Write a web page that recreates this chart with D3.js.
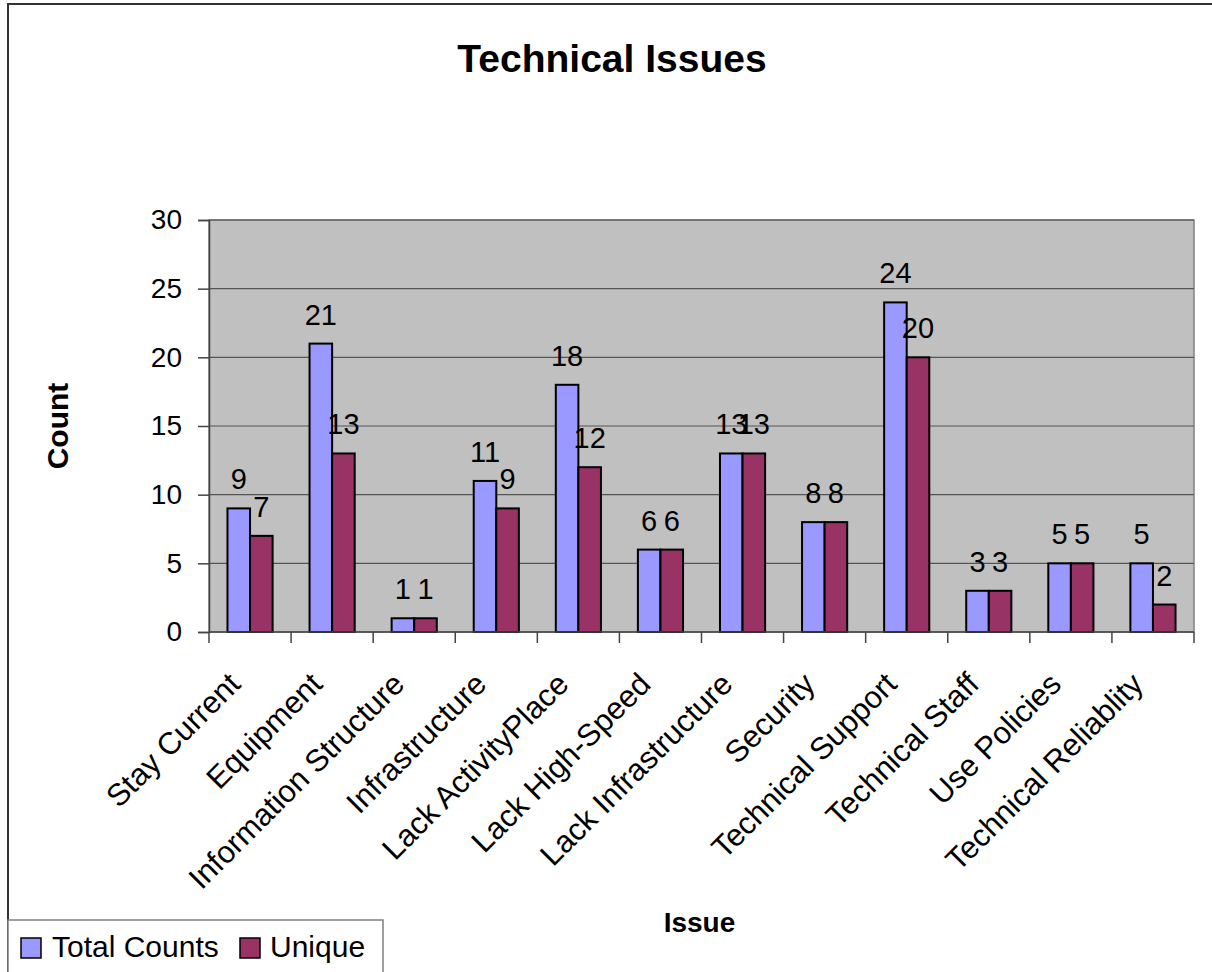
<!DOCTYPE html>
<html>
<head>
<meta charset="utf-8">
<script src="https://cdn.jsdelivr.net/npm/d3@7"></script>
<style>
  html, body { margin: 0; padding: 0; background: #fff; }
  svg { display: block; font-family: Arial, "Liberation Sans", sans-serif; }
</style>
</head>
<body>
<svg id="chart" width="1212" height="972"></svg>
<script>
// Issue categories along the x axis
const categories = [
  "Stay Current", "Equipment", "Information Structure", "Infrastructure",
  "Lack ActivityPlace", "Lack High-Speed", "Lack Infrastructure", "Security",
  "Technical Support", "Technical Staff", "Use Policies", "Technical Reliablity"
];
// Series values
const totalCounts = [9, 21, 1, 11, 18, 6, 13, 8, 24, 3, 5, 5];
const uniqueCounts = [7, 13, 1, 9, 12, 6, 13, 8, 20, 3, 5, 2];
const seriesNames = ["Total Counts", "Unique"];
const seriesColors = ["#9999FF", "#993366"];
// Y axis ticks
const yTicks = [0, 5, 10, 15, 20, 25, 30];

const svg = d3.select("#chart");

// Outer chart frame (extends past the right and bottom edges)
svg.append("rect")
  .attr("x", 8).attr("y", 4)
  .attr("width", 1260).attr("height", 1000)
  .attr("fill", "#fff").attr("stroke", "#333").attr("stroke-width", 2);

const plot = { left: 209, right: 1194, top: 220, bottom: 632 };

const x = d3.scaleBand().domain(categories).range([plot.left, plot.right]);
const y = d3.scaleLinear().domain([0, 30]).range([plot.bottom, plot.top]);

// Plot background
svg.append("rect")
  .attr("x", plot.left).attr("y", plot.top)
  .attr("width", plot.right - plot.left).attr("height", plot.bottom - plot.top)
  .attr("fill", "#C0C0C0").attr("stroke", "#808080").attr("stroke-width", 1.5);

// Horizontal gridlines
svg.append("g").selectAll("line")
  .data(yTicks.filter(t => t > 0))
  .join("line")
  .attr("x1", plot.left).attr("x2", plot.right)
  .attr("y1", d => y(d)).attr("y2", d => y(d))
  .attr("stroke", "#555").attr("stroke-width", 1.2);

// Bars
const groupWidth = x.bandwidth() * 0.55;
const x1 = d3.scaleBand().domain([0, 1]).range([0, groupWidth]);
const rows = categories.map((c, i) => ({ c, vals: [totalCounts[i], uniqueCounts[i]] }));

const groups = svg.append("g").selectAll("g")
  .data(rows)
  .join("g")
  .attr("transform", d => `translate(${x(d.c) + (x.bandwidth() - groupWidth) / 2},0)`);

groups.selectAll("rect")
  .data(d => d.vals.map((v, k) => ({ v, k })))
  .join("rect")
  .attr("x", d => x1(d.k))
  .attr("y", d => y(d.v))
  .attr("width", x1.bandwidth())
  .attr("height", d => y(0) - y(d.v))
  .attr("fill", d => seriesColors[d.k])
  .attr("stroke", "#000").attr("stroke-width", 2);

// Value labels above bars
groups.selectAll("text")
  .data(d => d.vals.map((v, k) => ({ v, k })))
  .join("text")
  .attr("x", d => x1(d.k) + x1.bandwidth() / 2)
  .attr("y", d => y(d.v) - 19)
  .attr("text-anchor", "middle")
  .attr("font-size", 29)
  .attr("fill", "#000")
  .text(d => d.v);

// Y axis
const yAxis = svg.append("g")
  .attr("transform", `translate(${plot.left},0)`)
  .call(d3.axisLeft(y).tickValues(yTicks).tickSize(11).tickPadding(16).tickFormat(d3.format("d")));
yAxis.select(".domain").attr("stroke", "#444").attr("stroke-width", 1.5);
yAxis.selectAll(".tick line").attr("stroke", "#444").attr("stroke-width", 1.5);
yAxis.selectAll(".tick text").attr("font-size", 28).attr("fill", "#000")
  .attr("font-family", "Arial, 'Liberation Sans', sans-serif");

// X axis with tick marks at category boundaries
const xAxisG = svg.append("g");
xAxisG.append("line")
  .attr("x1", plot.left).attr("x2", plot.right)
  .attr("y1", plot.bottom).attr("y2", plot.bottom)
  .attr("stroke", "#444").attr("stroke-width", 1.5);
xAxisG.selectAll("line.tk")
  .data(categories.concat(["__end"]))
  .join("line")
  .attr("class", "tk")
  .attr("x1", (d, i) => i < categories.length ? x(d) : plot.right)
  .attr("x2", (d, i) => i < categories.length ? x(d) : plot.right)
  .attr("y1", plot.bottom).attr("y2", plot.bottom + 11)
  .attr("stroke", "#444").attr("stroke-width", 1.5);

// Rotated category labels
xAxisG.selectAll("text")
  .data(categories)
  .join("text")
  .attr("transform", d => `translate(${x(d) + x.bandwidth() / 2 - 8},${plot.bottom + 54}) rotate(-45)`)
  .attr("text-anchor", "end")
  .attr("font-size", 31)
  .attr("fill", "#000")
  .text(d => d);

// Title
svg.append("text")
  .attr("x", 612).attr("y", 72)
  .attr("text-anchor", "middle")
  .attr("font-size", 39).attr("font-weight", "bold")
  .text("Technical Issues");

// Axis titles
svg.append("text")
  .attr("transform", `translate(${68},${(plot.top + plot.bottom) / 2}) rotate(-90)`)
  .attr("text-anchor", "middle")
  .attr("font-size", 30).attr("font-weight", "bold")
  .text("Count");

svg.append("text")
  .attr("x", (plot.left + plot.right) / 2 - 2).attr("y", 932)
  .attr("text-anchor", "middle")
  .attr("font-size", 28).attr("font-weight", "bold")
  .text("Issue");

// Legend box
const legend = svg.append("g");
legend.append("rect")
  .attr("x", 8).attr("y", 920)
  .attr("width", 375).attr("height", 80)
  .attr("fill", "#fff").attr("stroke", "#808080").attr("stroke-width", 1.5);

const legendItems = [
  { name: seriesNames[0], color: seriesColors[0], x: 21, tx: 52 },
  { name: seriesNames[1], color: seriesColors[1], x: 240, tx: 270 }
];
legendItems.forEach(it => {
  legend.append("rect")
    .attr("x", it.x).attr("y", 938)
    .attr("width", 20).attr("height", 20)
    .attr("fill", it.color).attr("stroke", "#000").attr("stroke-width", 1.5);
  legend.append("text")
    .attr("x", it.tx).attr("y", 957)
    .attr("font-size", 30)
    .text(it.name);
});
</script>
</body>
</html>
